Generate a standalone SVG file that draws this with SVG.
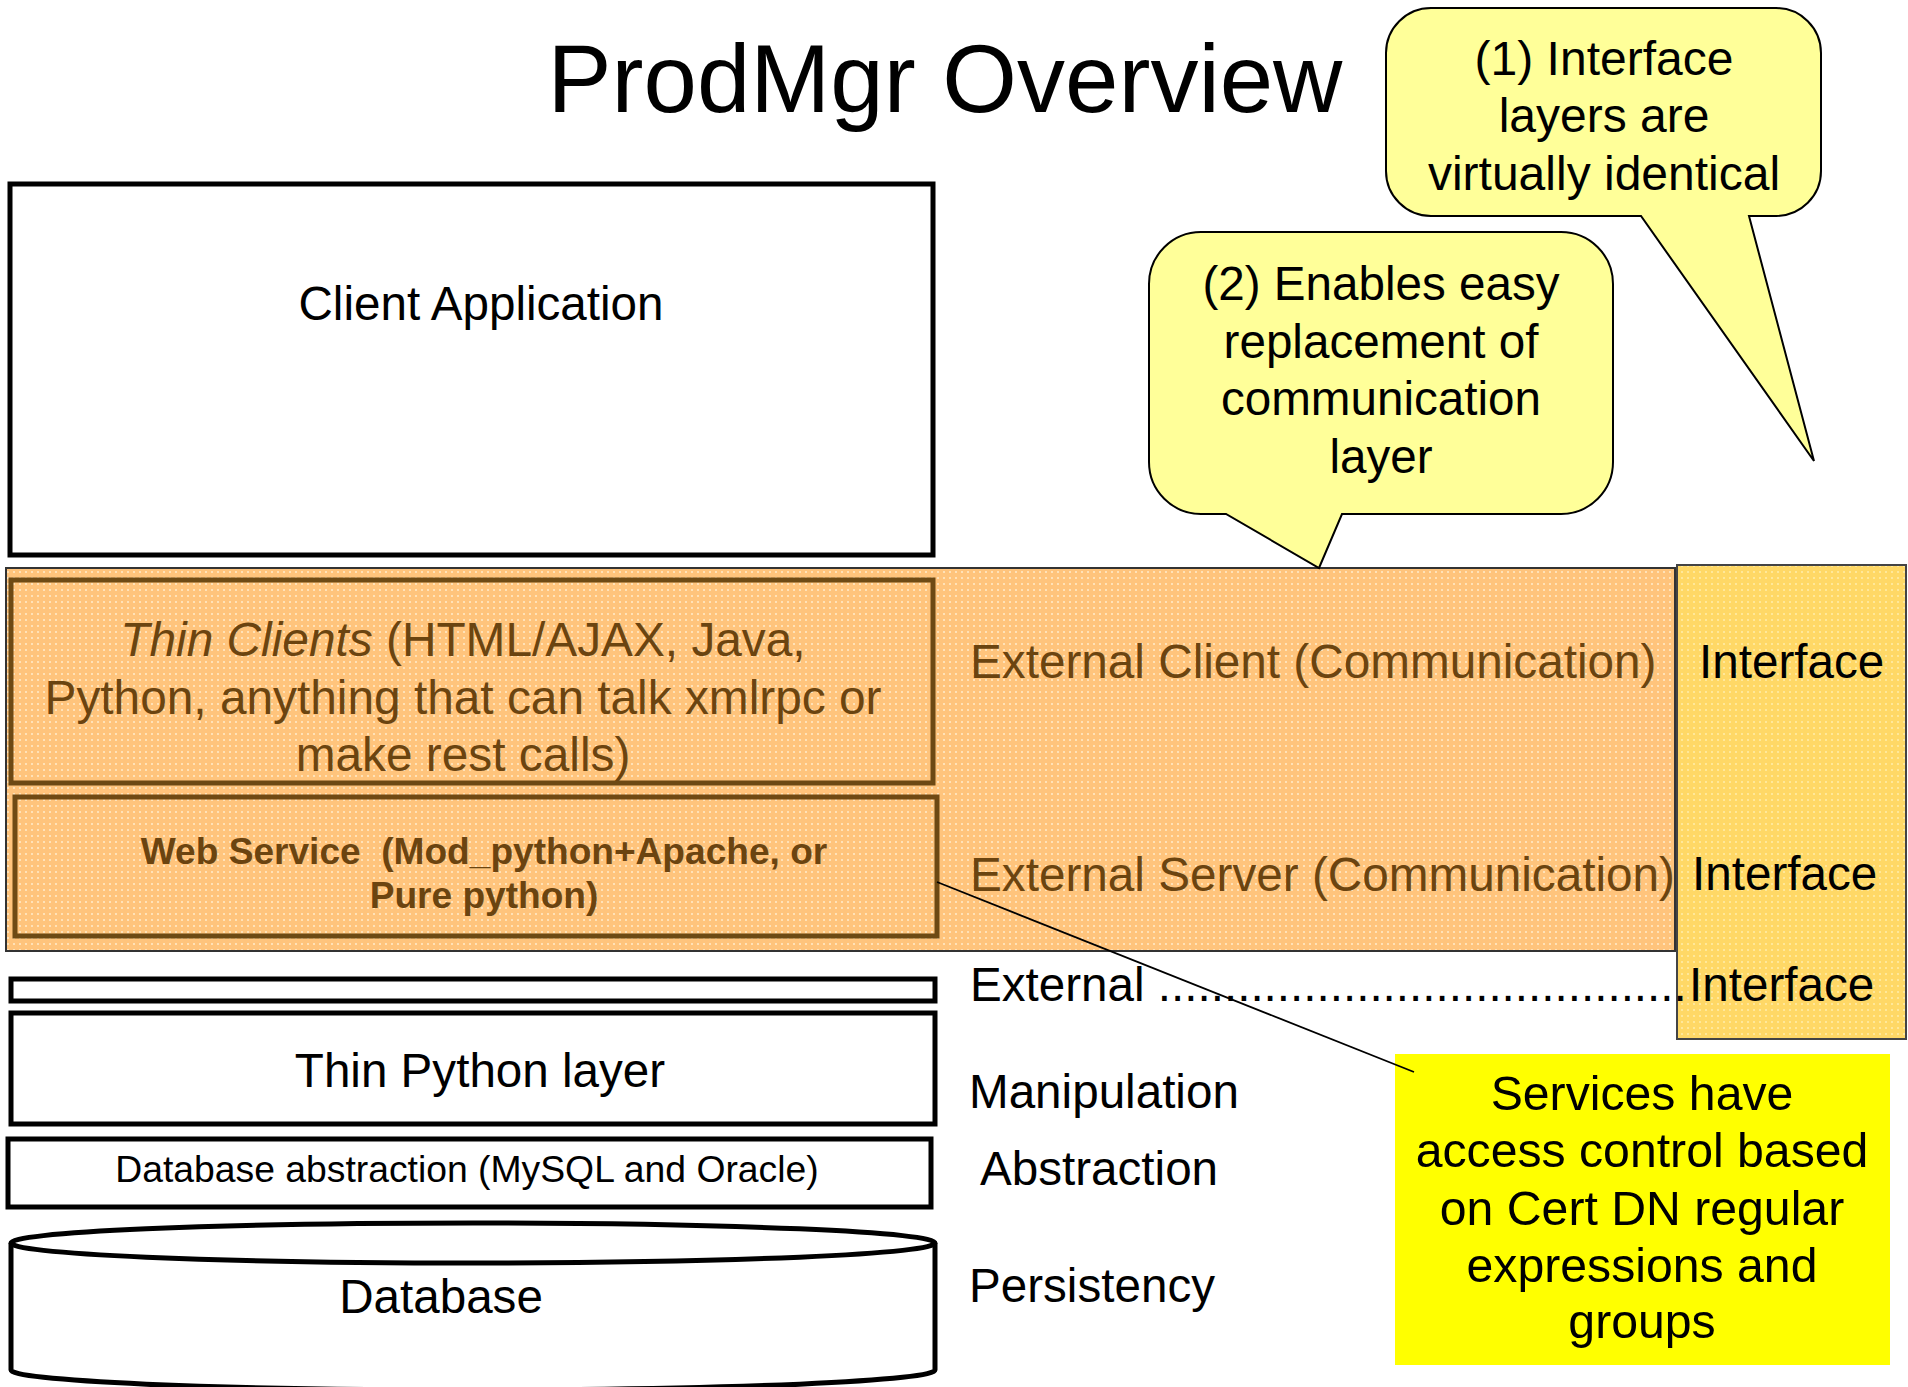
<svg xmlns="http://www.w3.org/2000/svg" width="1908" height="1387" viewBox="0 0 1908 1387">
<defs>
<pattern id="dotsOrange" width="6" height="6" patternUnits="userSpaceOnUse">
<rect width="6" height="6" fill="#FFC47C"/>
<rect x="1" y="1" width="2" height="2" fill="#FFE2B8"/>
</pattern>
<pattern id="dotsYellow" width="6" height="6" patternUnits="userSpaceOnUse">
<rect width="6" height="6" fill="#FFD866"/>
<rect x="1" y="1" width="2" height="2" fill="#FFE89A"/>
</pattern>
<style>
text{font-family:"Liberation Sans",Arial,sans-serif;fill:#000}
.t47{font-size:47.6px}
.brown{fill:#6B4410}
.box{fill:#fff;stroke:#000;stroke-width:5}
.bbox{fill:none;stroke:#6E4A14;stroke-width:5}
.callout{fill:#FFFF99;stroke:#000;stroke-width:2}
.mid{text-anchor:middle}
</style>
</defs>
<rect width="1908" height="1387" fill="#fff"/>

<g id="title"><text x="945" y="112" font-size="96" class="mid">ProdMgr Overview</text></g>

<g id="client-application">
<rect class="box" x="10" y="184" width="923" height="371"/>
<text x="481" y="320" class="t47 mid">Client Application</text>
</g>

<g id="communication-band">
<rect x="6" y="568" width="1669" height="383" fill="url(#dotsOrange)" stroke="#333" stroke-width="2"/>
</g>

<g id="interface-column">
<rect x="1677" y="565" width="229" height="474" fill="url(#dotsYellow)" stroke="#444" stroke-width="2"/>
</g>

<g id="thin-clients">
<rect class="bbox" x="11" y="580" width="922" height="203"/>
<text x="463" y="656" font-size="47.8" class="mid brown"><tspan font-style="italic">Thin Clients</tspan> (HTML/AJAX, Java,</text>
<text x="463" y="714" font-size="47.8" class="mid brown">Python, anything that can talk xmlrpc or</text>
<text x="463" y="771" font-size="47.8" class="mid brown">make rest calls)</text>
</g>

<g id="web-service">
<rect class="bbox" x="15" y="797" width="922" height="139"/>
<text x="484" y="864" font-size="37.1" font-weight="bold" class="mid brown">Web Service&#160; (Mod_python+Apache, or</text>
<text x="484" y="908" font-size="37.1" font-weight="bold" class="mid brown">Pure python)</text>
</g>

<g id="external-client-label"><text x="970" y="678" font-size="47.7" class="brown">External Client (Communication)</text></g>
<g id="external-server-label"><text x="970" y="891" font-size="47.7" class="brown">External Server (Communication)</text></g>
<g id="interface-1"><text x="1699" y="678" font-size="47.6">Interface</text></g>
<g id="interface-2"><text x="1692" y="890" font-size="47.6">Interface</text></g>

<g id="external-layer">
<rect class="box" x="11" y="979" width="924" height="22"/>
<text y="1001" font-size="47.6"><tspan x="970">External ........................................</tspan><tspan x="1689">Interface</tspan></text>
</g>

<g id="thin-python-layer">
<rect class="box" x="11" y="1013" width="924" height="111"/>
<text x="480" y="1087" class="t47 mid">Thin Python layer</text>
<text x="969" y="1108" class="t47">Manipulation</text>
</g>

<g id="database-abstraction">
<rect class="box" x="8" y="1139" width="923" height="68"/>
<text x="467" y="1182" font-size="37.3" class="mid">Database abstraction (MySQL and Oracle)</text>
<text x="980" y="1185" class="t47">Abstraction</text>
</g>

<g id="database">
<path d="M 11 1243 V 1370 A 462 20 0 0 0 935 1370 V 1243" fill="#fff" stroke="#000" stroke-width="5"/>
<ellipse cx="473" cy="1243" rx="462" ry="20" fill="#fff" stroke="#000" stroke-width="5"/>
<text x="441" y="1313" class="t47 mid">Database</text>
<text x="969" y="1302" class="t47">Persistency</text>
</g>

<g id="access-note">
<rect x="1395" y="1054" width="495" height="311" fill="#FFFF00"/>
<text x="1642" y="1110" font-size="48.2" class="mid">Services have</text>
<text x="1642" y="1167" font-size="48.2" class="mid">access control based</text>
<text x="1642" y="1225" font-size="48.2" class="mid">on Cert DN regular</text>
<text x="1642" y="1282" font-size="48.2" class="mid">expressions and</text>
<text x="1642" y="1338" font-size="48.2" class="mid">groups</text>
</g>

<g id="connectors">
<line x1="937" y1="882" x2="1414" y2="1072" stroke="#000" stroke-width="1.8"/>
</g>

<g id="callout-1">
<path class="callout" d="M 1431 8 H 1776 A 45 45 0 0 1 1821 53 V 171 A 45 45 0 0 1 1776 216 H 1749 L 1814 461 L 1641 216 H 1431 A 45 45 0 0 1 1386 171 V 53 A 45 45 0 0 1 1431 8 Z"/>
<text x="1604" y="75" font-size="48" class="mid">(1) Interface</text>
<text x="1604" y="132" font-size="48" class="mid">layers are</text>
<text x="1604" y="190" font-size="48" class="mid">virtually identical</text>
</g>

<g id="callout-2">
<path class="callout" d="M 1201 232 H 1561 A 52 52 0 0 1 1613 284 V 462 A 52 52 0 0 1 1561 514 H 1342 L 1319 568 L 1226 514 H 1201 A 52 52 0 0 1 1149 462 V 284 A 52 52 0 0 1 1201 232 Z"/>
<text x="1381" y="300" class="t47 mid">(2) Enables easy</text>
<text x="1381" y="358" class="t47 mid">replacement of</text>
<text x="1381" y="415" class="t47 mid">communication</text>
<text x="1381" y="473" class="t47 mid">layer</text>
</g>
</svg>
